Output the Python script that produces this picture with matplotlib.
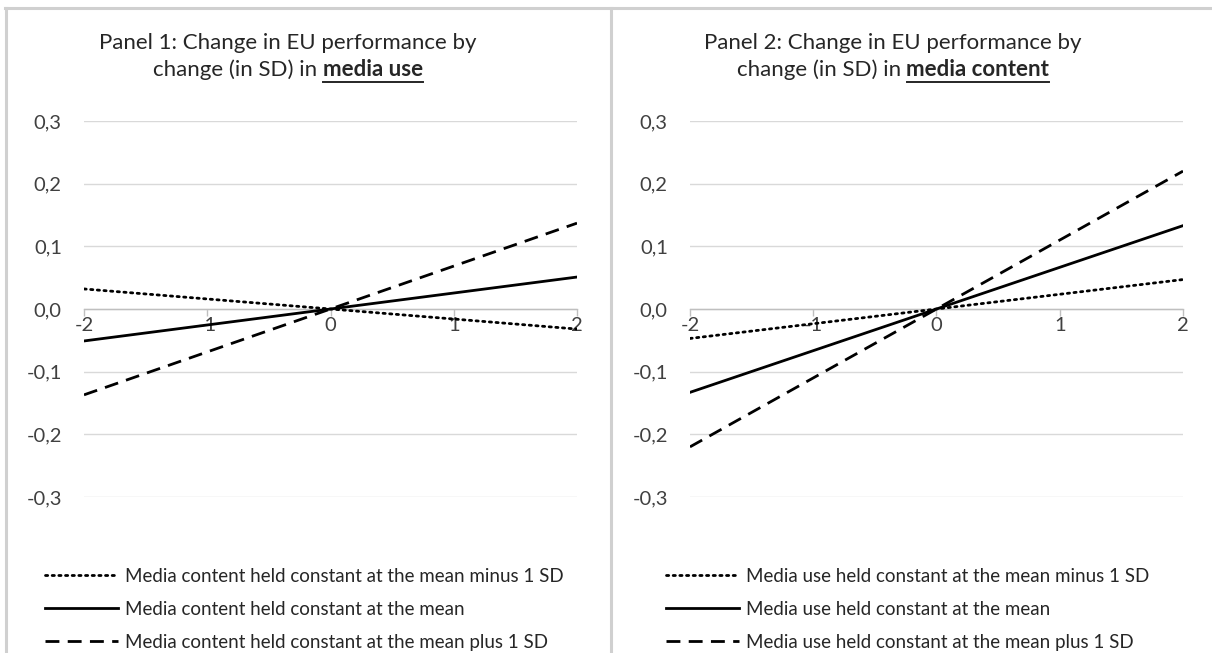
import matplotlib
matplotlib.use('Agg')
import matplotlib.pyplot as plt
from matplotlib.lines import Line2D

plt.rcParams['font.family'] = ['Lato', 'DejaVu Sans']

# ---------------- data ----------------
x_vals = [-2, -1, 0, 1, 2]
x_ticklabels = ['-2', '-1', '0', '1', '2']
y_ticks = [-0.3, -0.2, -0.1, 0.0, 0.1, 0.2, 0.3]
y_ticklabels = ['-0,3', '-0,2', '-0,1', '0,0', '0,1', '0,2', '0,3']

p1_minus = [0.032, 0.016, 0.0, -0.016, -0.032]
p1_mean = [-0.051, -0.0255, 0.0, 0.0255, 0.051]
p1_plus = [-0.137, -0.0685, 0.0, 0.0685, 0.137]

p2_minus = [-0.047, -0.0235, 0.0, 0.0235, 0.047]
p2_mean = [-0.133, -0.0665, 0.0, 0.0665, 0.133]
p2_plus = [-0.22, -0.11, 0.0, 0.11, 0.22]

p1_title_line1 = 'Panel 1: Change in EU performance by'
p1_title_plain = 'change (in SD) in '
p1_title_bold = 'media use'
p2_title_line1 = 'Panel 2: Change in EU performance by'
p2_title_plain = 'change (in SD) in '
p2_title_bold = 'media content'

p1_labels = ['Media content held constant at the mean minus 1 SD',
             'Media content held constant at the mean',
             'Media content held constant at the mean plus 1 SD']
p2_labels = ['Media use held constant at the mean minus 1 SD',
             'Media use held constant at the mean',
             'Media use held constant at the mean plus 1 SD']

# ---------------- figure ----------------
W, H = 1212, 653
fig = plt.figure(figsize=(W / 100, H / 100), dpi=100)
fig.patch.set_facecolor('white')


def fx(px):
    return px / W


def fy(py):
    return 1 - py / H


border_col = '#d0d0d0'
fig.add_artist(Line2D([fx(5), fx(1212)], [fy(8), fy(8)], color=border_col, lw=2.2,
                      transform=fig.transFigure))
for xb in (6, 611):
    fig.add_artist(Line2D([fx(xb), fx(xb)], [fy(8), fy(653)], color=border_col, lw=2.2,
                          transform=fig.transFigure))

renderer = fig.canvas.get_renderer()
TXT = '#262626'


def draw_title(cx, y1, y2, line1, plain, bold, size=16):
    fig.text(fx(cx), fy(y1), line1, ha='center', va='center', fontsize=size, color=TXT)
    t1 = fig.text(0, fy(y2), plain, ha='left', va='center', fontsize=size, color=TXT)
    t2 = fig.text(0, fy(y2), bold, ha='left', va='center', fontsize=size, fontweight='bold',
                  color=TXT)
    w1 = t1.get_window_extent(renderer).width
    w2 = t2.get_window_extent(renderer).width
    start = cx - (w1 + w2) / 2
    t1.set_x(fx(start))
    t2.set_x(fx(start + w1))
    uy = y2 + 12
    fig.add_artist(Line2D([fx(start + w1), fx(start + w1 + w2)], [fy(uy), fy(uy)],
                          color=TXT, lw=1.4, transform=fig.transFigure))


def draw_panel(left_px, minus, mean, plus, labels, title_cx, l1, plain, bold, leg_x):
    ax = fig.add_axes([fx(left_px), fy(497), 493 / W, 376 / H])
    ax.set_xlim(-2, 2)
    ax.set_ylim(-0.3, 0.3)
    ax.set_yticks(y_ticks)
    ax.set_yticklabels(y_ticklabels)
    ax.set_xticks(x_vals)
    ax.set_xticklabels(x_ticklabels)
    ax.grid(axis='y', color='#d9d9d9', lw=1)
    ax.set_axisbelow(True)
    for s in ('top', 'right', 'left'):
        ax.spines[s].set_visible(False)
    ax.spines['bottom'].set_position(('data', 0))
    ax.spines['bottom'].set_color('#bfbfbf')
    ax.spines['bottom'].set_linewidth(1)
    ax.tick_params(axis='y', length=0, pad=16, labelsize=14.5, labelcolor='#404040')
    ax.tick_params(axis='x', length=5, width=1, color='#bfbfbf', direction='out', pad=1,
                   labelsize=14.5, labelcolor='#404040')
    ax.plot(x_vals, minus, color='black', lw=2.0, linestyle=(0, (0.8, 1.6)),
            dash_capstyle='round', label=labels[0], zorder=3)
    ax.plot(x_vals, mean, color='black', lw=2.0, linestyle='-', label=labels[1], zorder=3)
    ax.plot(x_vals, plus, color='black', lw=2.0, linestyle=(0, (5, 3)),
            label=labels[2], zorder=3)
    ax.patch.set_alpha(0)
    leg = fig.legend(handles=ax.get_lines(), labels=labels,
                     loc='upper left', bbox_to_anchor=(fx(leg_x), fy(568)),
                     bbox_transform=fig.transFigure, frameon=False, fontsize=13.5,
                     handlelength=3.9, handletextpad=0.35, labelspacing=0.85,
                     borderaxespad=0, borderpad=0)
    for t in leg.get_texts():
        t.set_color(TXT)
    draw_title(title_cx, 43, 70, l1, plain, bold)
    return ax


draw_panel(84, p1_minus, p1_mean, p1_plus, p1_labels, 288,
           p1_title_line1, p1_title_plain, p1_title_bold, 45)
draw_panel(690, p2_minus, p2_mean, p2_plus, p2_labels, 893,
           p2_title_line1, p2_title_plain, p2_title_bold, 666)

fig.savefig('out.png', dpi=100, facecolor='white')
